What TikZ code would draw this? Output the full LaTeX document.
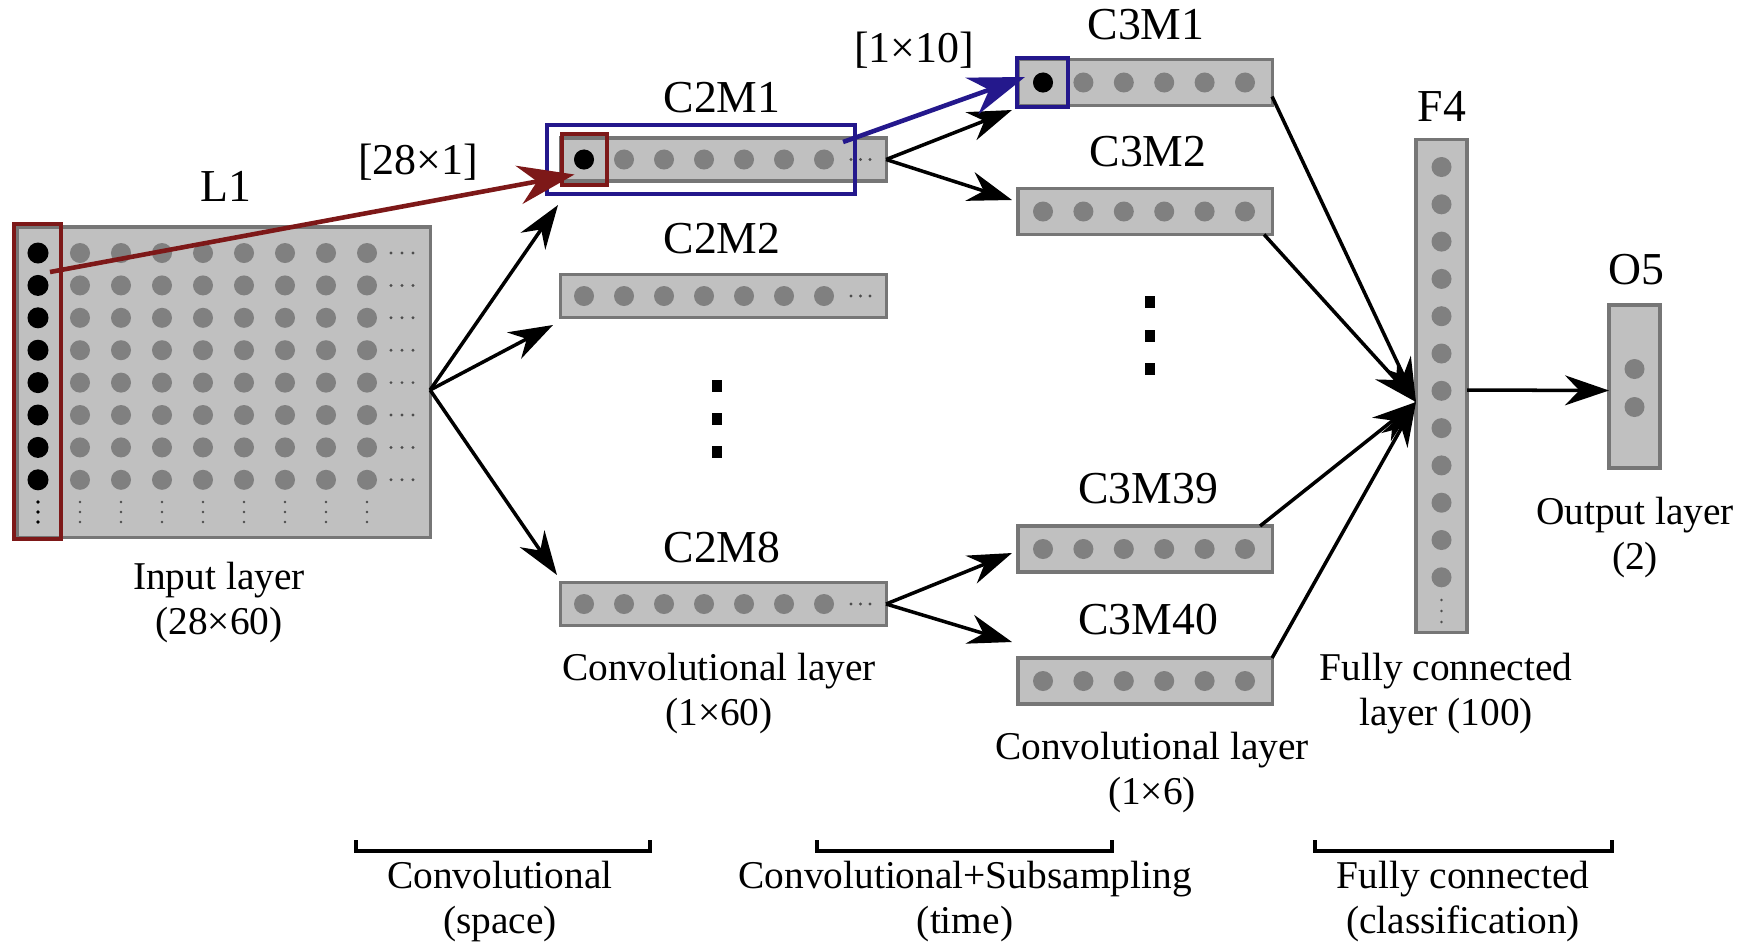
\documentclass[tikz,border=0pt]{standalone}
\usepackage{fontspec}
\setmainfont{Liberation Serif}
\usetikzlibrary{arrows.meta}

\definecolor{boxfill}{RGB}{192,192,192}
\definecolor{boxedge}{RGB}{118,118,118}
\definecolor{unitgray}{RGB}{128,128,128}
\definecolor{selred}{RGB}{125,24,24}
\definecolor{selblue}{RGB}{36,24,140}

\begin{document}
\begin{tikzpicture}[x=0.01cm, y=-0.01cm,
    layerbox/.style={draw=boxedge, fill=boxfill, line width=0.9pt, inner sep=0pt, outer sep=0pt},
    selbox/.style={draw=#1, line width=1.2pt, inner sep=0pt, outer sep=0pt},
    conn/.style={-{Stealth[length=12.5pt, width=8.5pt]}, line width=1pt},
    selconn/.style={#1, line width=1.3pt, -{Stealth[length=16pt, width=11pt]}},
    lab/.style={font=\fontsize{13}{15}\selectfont},
    dimlab/.style={font=\fontsize{12.5}{14}\selectfont},
    txt/.style={font=\fontsize{11.2}{12.8}\selectfont, align=center},
    bracket/.style={line width=1.4pt}]

    \useasboundingbox (0,0) rectangle (1743,951);

    % Input layer
    \node[layerbox, minimum width=4.12cm, minimum height=3.10cm] (inp) at (224,382) {};
    \foreach \i in {0,...,7} {
        \fill[black] (38,253+32.4*\i) circle[radius=0.105cm];
        \foreach \j in {0,...,7}
            \fill[unitgray] (80+41*\j,253+32.4*\i) circle[radius=0.1cm];
        \foreach \k in {0,1,2}
            \fill[unitgray!60!black] (391+11*\k,253+32.4*\i) circle[radius=0.016cm];
    }
    \foreach \k in {0,1,2} {
        \fill[black] (38,502+10*\k) circle[radius=0.018cm];
        \foreach \j in {0,...,7}
            \fill[unitgray!60!black] (80+41*\j,502+10*\k) circle[radius=0.014cm];
    }

    % First convolutional layer
    \foreach \y/\n in {159.5/c2m1, 296/c2m2, 604/c2m8} {
        \node[layerbox, minimum width=3.25cm, minimum height=0.43cm] (\n) at (723.5,\y) {};
        \foreach \k in {0,...,6}
            \fill[unitgray] (584+40*\k,\y) circle[radius=0.1cm];
        \foreach \k in {0,1,2}
            \fill[unitgray!60!black] (851+9.5*\k,\y) circle[radius=0.016cm];
    }
    \fill[black] (584,159.5) circle[radius=0.1cm];
    \foreach \y in {386,419,452}
        \fill[black] (712,\y-6) rectangle (722,\y+6);

    % Second convolutional layer
    \foreach \y/\n in {82.5/c3m1, 211.5/c3m2, 549/c3m39, 681/c3m40} {
        \node[layerbox, minimum width=2.54cm, minimum height=0.46cm] (\n) at (1145,\y) {};
        \foreach \k in {0,...,5}
            \fill[unitgray] (1043+40.4*\k,\y) circle[radius=0.1cm];
    }
    \fill[black] (1043,82.5) circle[radius=0.1cm];
    \foreach \y in {302,336,369}
        \fill[black] (1145,\y-6) rectangle (1155,\y+6);

    % Fully connected layer
    \node[layerbox, minimum width=0.51cm, minimum height=4.92cm] (f4) at (1441.5,386) {};
    \foreach \k in {0,...,11}
        \fill[unitgray] (1441.5,167+37.3*\k) circle[radius=0.1cm];
    \foreach \k in {0,1,2}
        \fill[unitgray!60!black] (1441.5,600+11*\k) circle[radius=0.014cm];

    % Output layer
    \node[layerbox, minimum width=0.51cm, minimum height=1.63cm] (o5) at (1634.5,386.5) {};
    \fill[unitgray] (1634.5,369) circle[radius=0.1cm];
    \fill[unitgray] (1634.5,407) circle[radius=0.1cm];

    % Selected kernels
    \node[selbox=selred, minimum width=0.47cm, minimum height=3.15cm] (sel1) at (37.5,381.5) {};
    \node[selbox=selred, minimum width=0.45cm, minimum height=0.51cm] (sel2) at (584.5,159.5) {};
    \node[selbox=selblue, minimum width=3.08cm, minimum height=0.69cm] (sel3) at (701,159.5) {};
    \node[selbox=selblue, minimum width=0.51cm, minimum height=0.49cm] (sel4) at (1042.5,82.5) {};

    % Connections
    \coordinate (inR) at ([yshift=-0.08cm]inp.east);
    \coordinate (t1) at (558,205);
    \coordinate (t2) at (553,325);
    \coordinate (t3) at (557,575);
    \draw[conn] (inR) -- (t1);
    \draw[conn] (inR) -- (t2);
    \draw[conn] (inR) -- (t3);

    \coordinate (t4) at (1012,110);
    \coordinate (t5) at (1012,200);
    \coordinate (t6) at (1012,553);
    \coordinate (t7) at (1012,642);
    \draw[conn] (c2m1.east) -- (t4);
    \draw[conn] (c2m1.east) -- (t5);
    \draw[conn] (c2m8.east) -- (t6);
    \draw[conn] (c2m8.east) -- (t7);

    \coordinate (f4in) at ([yshift=-0.16cm]f4.west);
    \draw[conn] ([yshift=-0.14cm]c3m1.east) -- (f4in);
    \draw[conn] ([xshift=-0.08cm]c3m2.south east) -- (f4in);
    \draw[conn] ([xshift=-0.12cm]c3m39.north east) -- (f4in);
    \draw[conn] (c3m40.north east) -- (f4in);
    \draw[conn] ([yshift=-0.04cm]f4.east) -- ([yshift=-0.04cm]o5.west);

    % Kernel arrows
    \coordinate (redstart) at (50,272);
    \draw[selconn=selred] (redstart) -- ([xshift=-0.1cm, yshift=-0.15cm]sel2.center);
    \draw[selconn=selblue] ([xshift=-0.12cm, yshift=0.175cm]sel3.east) -- ([xshift=-0.175cm, yshift=0.055cm]sel4.center);

    % Labels
    \node[lab] (lL1) at (226,186) {L1};
    \node[dimlab] (k1) at (418,162) {[28×1]};
    \node[dimlab] (k2) at (914,50) {[1×10]};
    \node[lab] (lc2m1) at (722,98) {C2M1};
    \node[lab] (lc2m2) at (722,239) {C2M2};
    \node[lab] (lc2m8) at (722,548) {C2M8};
    \node[lab] (lc3m1) at (1146,25) {C3M1};
    \node[lab] (lc3m2) at (1148,152) {C3M2};
    \node[lab] (lc3m39) at (1148,489) {C3M39};
    \node[lab] (lc3m40) at (1148,620) {C3M40};
    \node[lab] (lf4) at (1442,106) {F4};
    \node[lab] (lo5) at (1636,270) {O5};

    \node[txt] (dinp) at (219,603) {Input layer\\(28×60)};
    \node[txt] (dc2) at (719,694) {Convolutional layer\\(1×60)};
    \node[txt] (dc3) at (1152,773) {Convolutional layer\\(1×6)};
    \node[txt] (df4) at (1446,694) {Fully connected\\layer (100)};
    \node[txt] (do5) at (1635,538) {Output layer\\(2)};

    % Stages
    \draw[bracket] (356,840) -- (356,851) -- (650,851) -- (650,840);
    \draw[bracket] (817,840) -- (817,851) -- (1112,851) -- (1112,840);
    \draw[bracket] (1315,840) -- (1315,851) -- (1612,851) -- (1612,840);
    \node[txt] (s1) at (500,902) {Convolutional\\(space)};
    \node[txt] (s2) at (965,902) {Convolutional+Subsampling\\(time)};
    \node[txt] (s3) at (1463,902) {Fully connected\\(classification)};
\end{tikzpicture}
\end{document}
